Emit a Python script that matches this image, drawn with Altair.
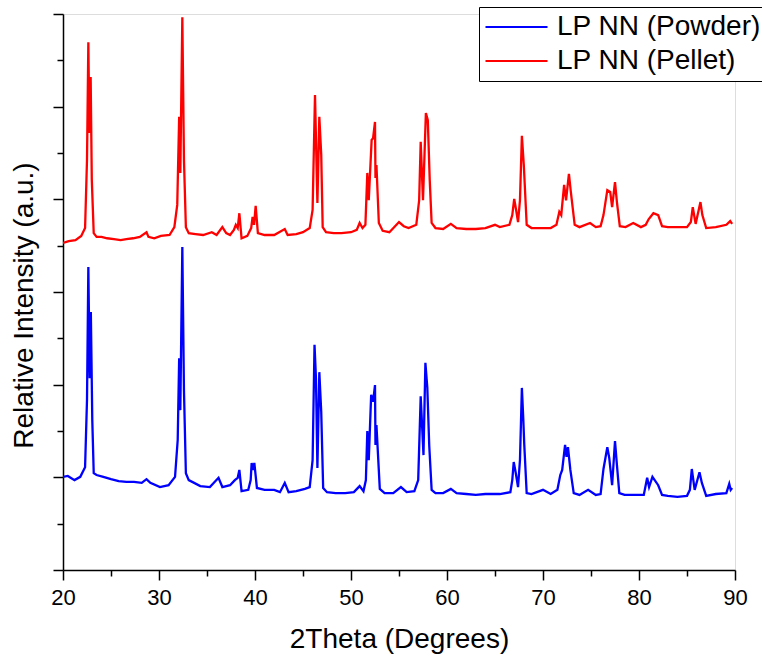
import altair as alt
import pandas as pd

# XRD scans of the LP NN sample (2-theta in degrees, intensity in arbitrary units)
powder_2theta = [
    20.0, 20.5, 21.2, 21.8, 22.3, 22.5, 22.64, 22.78, 22.9, 23.05, 23.2, 23.5, 24.2, 25.0,
    25.8, 26.6, 27.4, 28.2, 28.7, 29.1, 30.1, 31.0, 31.67, 31.95, 32.1, 32.22, 32.43, 32.6,
    32.8, 33.1, 34.3, 35.3, 36.2, 36.6, 37.4, 37.9, 38.2, 38.37, 38.6, 39.3, 39.55, 39.65,
    39.8, 39.93, 40.2, 41.0, 42.0, 42.6, 43.1, 43.5, 44.3, 45.2, 45.7, 46.0, 46.2, 46.35,
    46.5, 46.7, 46.9, 47.1, 47.5, 48.4, 49.4, 50.3, 50.9, 51.3, 51.55, 51.7, 51.85, 52.1,
    52.3, 52.5, 52.55, 52.65, 53.0, 53.5, 54.4, 55.2, 55.8, 56.6, 57.0, 57.26, 57.55, 57.75,
    57.95, 58.15, 58.4, 58.8, 59.6, 60.4, 61.0, 62.0, 63.0, 64.0, 65.0, 65.5, 66.6, 66.8,
    66.95, 67.15, 67.4, 67.6, 67.8, 67.95, 68.05, 68.3, 68.8, 70.0, 70.8, 71.5, 71.8, 72.0,
    72.3, 72.45, 72.6, 72.85, 73.2, 73.8, 74.7, 75.5, 76.0, 76.3, 76.7, 76.9, 77.2, 77.5,
    77.7, 77.95, 78.5, 79.5, 80.5, 80.85, 81.05, 81.4, 82.0, 82.4, 83.0, 84.0, 85.0, 85.3,
    85.5, 85.8, 86.3, 86.55, 87.0, 88.0, 89.1, 89.4, 89.55, 89.7,
]
powder_intensity = [
    201, 203, 194, 201, 222, 367, 654, 414, 557, 324, 209, 205, 201, 196,
    192, 190, 190, 188, 196, 188, 179, 183, 201, 281, 457, 345, 697, 388,
    209, 194, 181, 179, 199, 179, 183, 194, 199, 216, 170, 173, 194, 231,
    216, 231, 177, 173, 173, 168, 188, 168, 170, 175, 179, 237, 486, 414,
    220, 427, 341, 177, 168, 166, 166, 168, 181, 170, 194, 300, 237, 378,
    363, 399, 270, 313, 175, 166, 166, 179, 168, 170, 194, 375, 248, 447,
    393, 268, 173, 166, 166, 175, 166, 164, 162, 164, 164, 164, 168, 194,
    233, 211, 179, 237, 393, 324, 270, 166, 164, 173, 164, 173, 205, 216,
    270, 244, 265, 216, 166, 162, 173, 162, 164, 218, 265, 242, 183, 278,
    227, 166, 162, 162, 162, 199, 179, 201, 183, 162, 160, 158, 160, 173,
    218, 173, 211, 188, 160, 164, 166, 186, 173, 177,
]

pellet_2theta = [
    20.0, 20.6, 21.3, 21.9, 22.3, 22.5, 22.64, 22.75, 22.88, 23.0, 23.2, 23.5, 24.0, 24.6,
    25.3, 26.0, 26.6, 27.3, 28.0, 28.7, 28.9, 29.5, 30.2, 31.1, 31.6, 31.9, 32.1, 32.22,
    32.43, 32.6, 32.8, 33.1, 33.8, 34.6, 35.5, 36.0, 36.6, 37.0, 37.4, 37.8, 38.0, 38.2,
    38.37, 38.6, 39.2, 39.6, 39.75, 39.9, 40.07, 40.3, 41.0, 42.0, 43.1, 43.4, 44.3, 45.0,
    45.7, 46.0, 46.25, 46.4, 46.5, 46.7, 46.9, 47.05, 47.4, 48.2, 49.0, 50.0, 50.6, 50.9,
    51.2, 51.5, 51.7, 51.85, 52.15, 52.3, 52.5, 52.55, 52.65, 52.9, 53.3, 54.0, 55.0, 55.5,
    56.0, 56.8, 57.1, 57.26, 57.5, 57.8, 58.0, 58.2, 58.4, 58.8, 59.6, 60.4, 61.0, 62.0,
    63.0, 64.0, 65.0, 65.5, 66.5, 66.8, 67.0, 67.2, 67.4, 67.6, 67.8, 68.0, 68.3, 68.8,
    69.8, 70.8, 71.4, 71.7, 71.9, 72.2, 72.4, 72.7, 72.9, 73.3, 73.8, 74.9, 75.5, 76.0,
    76.3, 76.7, 77.0, 77.2, 77.5, 77.7, 78.0, 78.6, 79.4, 80.2, 80.7, 81.0, 81.5, 82.0,
    82.4, 83.0, 84.0, 85.0, 85.4, 85.6, 85.9, 86.4, 86.6, 87.0, 88.0, 89.1, 89.5, 89.7,
]
pellet_intensity = [
    706, 710, 712, 721, 738, 885, 1139, 943, 1064, 842, 727, 719, 719, 716,
    714, 712, 714, 716, 719, 729, 719, 716, 721, 723, 740, 788, 978, 857,
    1193, 885, 740, 727, 725, 723, 729, 723, 740, 727, 723, 734, 745, 738,
    770, 716, 721, 738, 762, 745, 786, 727, 723, 723, 736, 723, 725, 729,
    738, 777, 1025, 885, 792, 978, 896, 740, 729, 727, 727, 729, 734, 749,
    738, 745, 857, 798, 928, 932, 967, 846, 874, 749, 732, 729, 751, 742,
    738, 745, 798, 924, 798, 986, 971, 842, 749, 738, 736, 747, 738, 736,
    736, 738, 745, 740, 745, 766, 801, 777, 751, 798, 937, 874, 745, 738,
    738, 738, 745, 773, 766, 831, 798, 855, 816, 745, 740, 749, 740, 742,
    766, 820, 816, 783, 837, 794, 742, 740, 749, 740, 745, 757, 770, 766,
    742, 740, 740, 740, 751, 783, 747, 794, 766, 738, 740, 745, 753, 747,
]

series_names = ["LP NN (Powder)", "LP NN (Pellet)"]
series_colors = ["#0000ff", "#ff0000"]

frames = []
for name, xs, ys in [
    (series_names[0], powder_2theta, powder_intensity),
    (series_names[1], pellet_2theta, pellet_intensity),
]:
    frames.append(pd.DataFrame({
        "two_theta": xs,
        "intensity": ys,
        "sample": name,
        "step": list(range(len(xs))),
    }))
data = pd.concat(frames, ignore_index=True)

FONT = "Liberation Sans"

x_axis = alt.Axis(
    title="2Theta (Degrees)",
    values=list(range(20, 91, 5)),
    labelExpr="datum.value % 10 === 0 ? datum.label : ''",
    tickSize={"condition": {"test": "datum.value % 10 === 0", "value": 10}, "value": 6},
    tickWidth=1.5,
    domainWidth=1.5,
    domainColor="black",
    tickColor="black",
    labelColor="black",
    labelFont=FONT,
    labelFontSize=22,
    labelPadding=7,
    labelFlush=False,
    titleFont=FONT,
    titleFontSize=28,
    titleFontWeight="normal",
    titleColor="black",
    titlePadding=17,
    grid=False,
)

y_axis = alt.Axis(
    title="Relative Intensity (a.u.)",
    values=list(range(0, 1201, 100)),
    labels=False,
    tickSize={"condition": {"test": "datum.value % 200 === 0", "value": 10}, "value": 6},
    tickWidth=1.5,
    domainWidth=1.5,
    domainColor="black",
    tickColor="black",
    titleFont=FONT,
    titleFontSize=28,
    titleFontWeight="normal",
    titleColor="black",
    titlePadding=14,
    titleY=291,
    grid=False,
)

legend = alt.Legend(
    title=None,
    orient="none",
    legendX=416,
    legendY=-7,
    symbolType="stroke",
    symbolSize=3844,
    symbolStrokeWidth=2.2,
    labelFont=FONT,
    labelFontSize=28,
    labelColor="black",
    labelLimit=0,
    labelOffset=8,
    clipHeight=30,
    strokeColor="black",
    fillColor="white",
    padding=5,
    rowPadding=4,
)

chart = alt.Chart(data).mark_line(strokeWidth=2.3, clip=True).encode(
    x=alt.X("two_theta:Q", scale=alt.Scale(domain=[20, 90], nice=False, zero=False), axis=x_axis),
    y=alt.Y("intensity:Q", scale=alt.Scale(domain=[0, 1200], nice=False), axis=y_axis),
    color=alt.Color("sample:N", scale=alt.Scale(domain=series_names, range=series_colors), legend=legend),
    order=alt.Order("step:Q"),
).properties(
    width=672,
    height=556,
    autosize=alt.AutoSizeParams(type="none"),
    padding={"left": 63, "top": 14, "right": 27, "bottom": 91},
).configure_view(
    stroke=None
).configure(
    background="white"
)

chart.save("out.html", embed_options={"renderer": "svg", "actions": False})
